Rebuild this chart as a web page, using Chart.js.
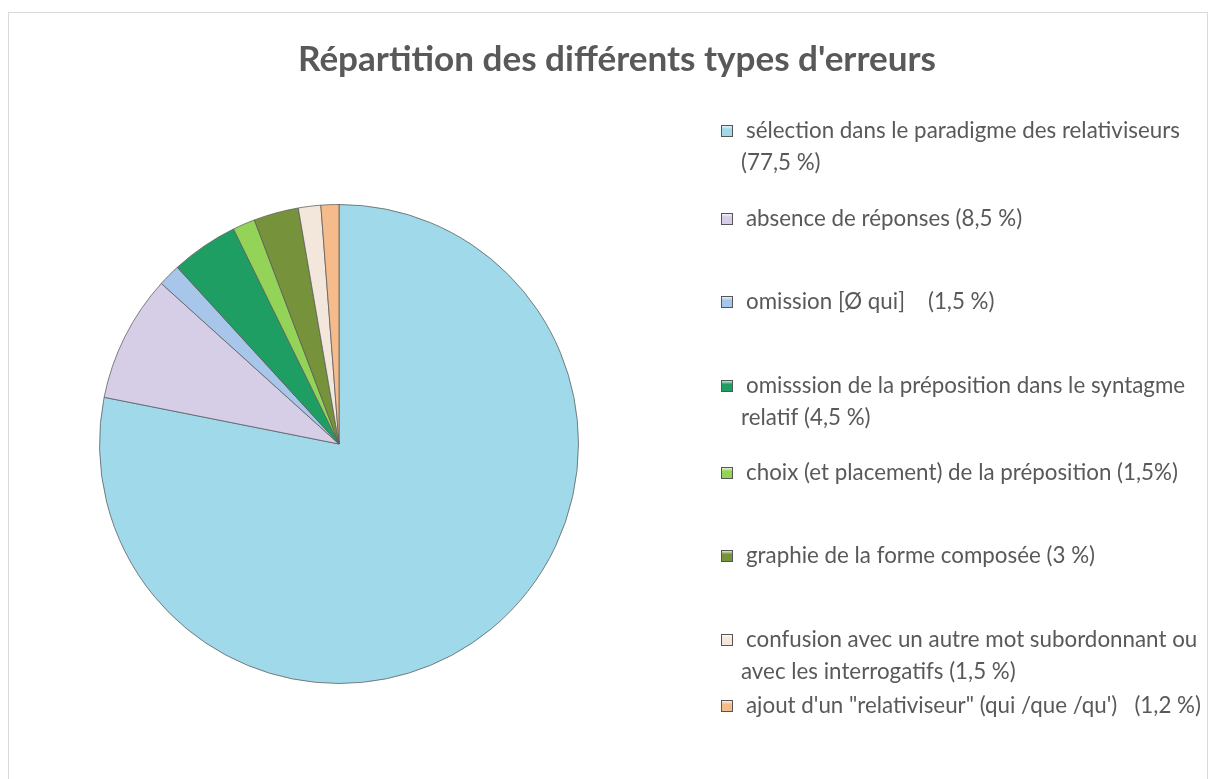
<!DOCTYPE html>
<html><head><meta charset="utf-8">
<script src="https://cdn.jsdelivr.net/npm/chart.js@4.4.0/dist/chart.umd.min.js"></script>
<style>html,body{margin:0;padding:0;background:#fff;overflow:hidden}#wrap{width:1210px;height:779px;position:relative}</style>
</head><body><div id="wrap"><canvas id="c" width="1210" height="779"></canvas></div>
<script>
const chartTitle = "Répartition des différents types d'erreurs";
const categories = [
  "sélection dans le paradigme des relativiseurs (77,5 %)",
  "absence de réponses (8,5 %)",
  "omission [Ø qui]    (1,5 %)",
  "omisssion de la préposition dans le syntagme relatif (4,5 %)",
  "choix (et placement) de la préposition (1,5%)",
  "graphie de la forme composée (3 %)",
  "confusion avec un autre mot subordonnant ou avec les interrogatifs (1,5 %)",
  "ajout d'un \"relativiseur\" (qui /que /qu')   (1,2 %)"
];
const values = [77.5, 8.5, 1.5, 4.5, 1.5, 3, 1.5, 1.2];
const legendLines = [
  ["sélection dans le paradigme des relativiseurs", "(77,5 %)"],
  ["absence de réponses (8,5 %)"],
  ["omission [Ø qui]    (1,5 %)"],
  ["omisssion de la préposition dans le syntagme", "relatif (4,5 %)"],
  ["choix (et placement) de la préposition (1,5%)"],
  ["graphie de la forme composée (3 %)"],
  ["confusion avec un autre mot subordonnant ou", "avec les interrogatifs (1,5 %)"],
  ["ajout d'un \"relativiseur\" (qui /que /qu')   (1,2 %)"]
];
const colors = ["#9fd9ea", "#d6cde6", "#a7c6ea", "#1f9e64", "#93d458", "#76933c", "#f3e7dc", "#f5bb8a"];

const FONT = "Lato, 'Open Sans', sans-serif";
const legendRowY = [131, 219, 302, 386, 473, 556, 640, 706];

const decor = {
  id: 'decor',
  beforeDraw(chart) {
    const ctx = chart.ctx;
    ctx.save();
    ctx.fillStyle = '#ffffff';
    ctx.fillRect(0, 0, chart.width, chart.height);
    ctx.strokeStyle = '#d9d9d9';
    ctx.lineWidth = 1;
    ctx.strokeRect(8.5, 12.5, 1199, 780);
    ctx.restore();
  },
  afterDraw(chart) {
    const ctx = chart.ctx;
    ctx.save();
    // title
    ctx.font = "bold 100px " + FONT;
    let w = ctx.measureText(chartTitle).width;
    let fs = 100 * 638 / w;
    ctx.font = "bold " + fs.toFixed(2) + "px " + FONT;
    ctx.fillStyle = '#595959';
    ctx.textAlign = 'center';
    ctx.textBaseline = 'middle';
    ctx.fillText(chartTitle, 617, 60);
    // legend
    ctx.font = "100px " + FONT;
    w = ctx.measureText(legendLines[0][0]).width;
    fs = 100 * 434 / w;
    ctx.font = fs.toFixed(2) + "px " + FONT;
    ctx.textAlign = 'left';
    legendLines.forEach((lines, i) => {
      const y = legendRowY[i];
      const g = ctx.createLinearGradient(0, y - 6, 0, y + 6);
      g.addColorStop(0, '#ffffff');
      g.addColorStop(0.35, colors[i]);
      g.addColorStop(1, colors[i]);
      ctx.fillStyle = g;
      ctx.fillRect(721, y - 6, 12, 12);
      ctx.strokeStyle = '#555';
      ctx.lineWidth = 1;
      ctx.strokeRect(721.5, y - 5.5, 11, 11);
      ctx.fillStyle = '#595959';
      lines.forEach((t, k) => {
        ctx.fillText(t, k === 0 ? 746 : 741, y + k * 32);
      });
    });
    ctx.restore();
  }
};

new Chart(document.getElementById('c'), {
  type: 'pie',
  data: {
    labels: categories,
    datasets: [{
      data: values,
      backgroundColor: colors,
      borderColor: 'rgba(90,90,90,0.75)',
      borderWidth: 1
    }]
  },
  options: {
    responsive: false,
    animation: false,
    devicePixelRatio: 1,
    layout: { padding: { left: 99, right: 631, top: 204, bottom: 95 } },
    plugins: {
      legend: { display: false },
      title: { display: false },
      tooltip: { enabled: false }
    }
  },
  plugins: [decor]
});
</script>
</body></html>
